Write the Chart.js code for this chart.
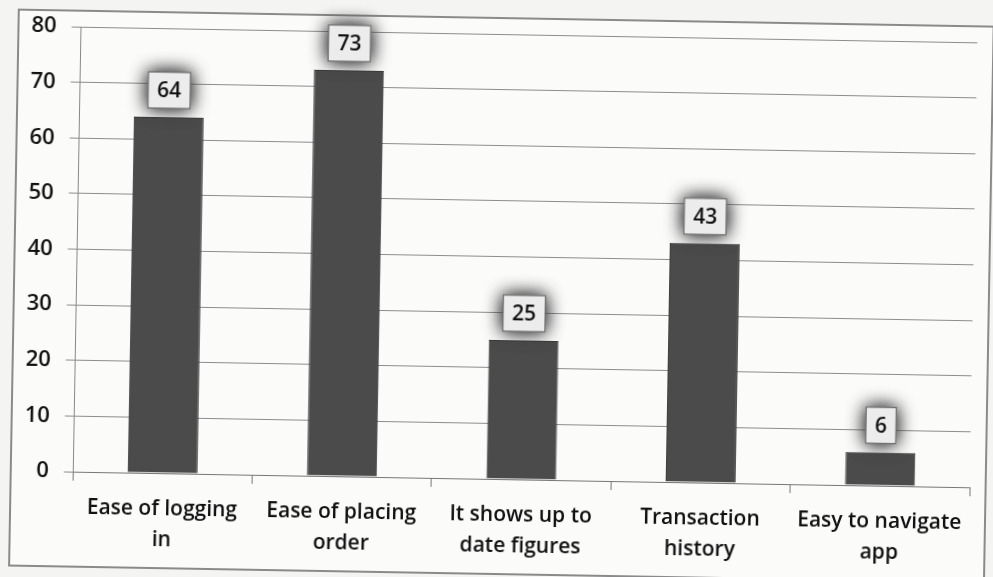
<!DOCTYPE html>
<html lang="en">
<head>
<meta charset="UTF-8">
<title>App features</title>
<style>
  html, body { margin: 0; padding: 0; background: #f4f4f2; }
  #wrap { width: 993px; height: 577px; overflow: hidden; }
  #chart { transform: rotate(1deg); transform-origin: 50% 50%; }
</style>
</head>
<body>
<div id="wrap"><canvas id="chart" width="993" height="577"></canvas></div>
<script src="https://cdn.jsdelivr.net/npm/chart.js"></script>
<script>
const categories = [
  ['Ease of logging', 'in'],
  ['Ease of placing', 'order'],
  ['It shows up to', 'date figures'],
  ['Transaction', 'history'],
  ['Easy to navigate', 'app']
];
const counts = [64, 73, 25, 43, 6];
const yTicks = [0, 10, 20, 30, 40, 50, 60, 70, 80];

const FONT = '"Open Sans", Lato, sans-serif';

// paper background and outer frame
const framePlugin = {
  id: 'frame',
  beforeDraw(chart) {
    const ctx = chart.ctx;
    ctx.save();
    ctx.fillStyle = '#fbfbfa';
    ctx.fillRect(14, 18, 975, 556);
    ctx.strokeStyle = '#8a8a8a';
    ctx.lineWidth = 2;
    ctx.strokeRect(14, 18, 975, 556);
    ctx.restore();
  }
};

// boxed value labels with a soft grey glow
const valueBoxes = {
  id: 'valueBoxes',
  afterDatasetsDraw(chart) {
    const ctx = chart.ctx;
    const meta = chart.getDatasetMeta(0);
    ctx.save();
    ctx.font = '600 21px ' + FONT;
    meta.data.forEach((bar, i) => {
      const txt = String(chart.data.datasets[0].data[i]);
      const w = ctx.measureText(txt).width + 18;
      const h = 36;
      const x = bar.x - w / 2;
      const y = bar.y - 9 - h;
      ctx.shadowColor = 'rgba(60,60,60,0.95)';
      ctx.shadowBlur = 18;
      ctx.fillStyle = '#ececec';
      ctx.fillRect(x, y, w, h);
      ctx.fillRect(x, y, w, h);
      ctx.shadowBlur = 0;
      ctx.fillRect(x, y, w, h);
      ctx.strokeStyle = '#6f6f6f';
      ctx.lineWidth = 1.2;
      ctx.strokeRect(x, y, w, h);
      ctx.fillStyle = '#111';
      ctx.textAlign = 'center';
      ctx.textBaseline = 'middle';
      ctx.fillText(txt, bar.x, y + h / 2 + 1);
    });
    ctx.restore();
  }
};

new Chart(document.getElementById('chart'), {
  type: 'bar',
  data: {
    labels: categories,
    datasets: [{
      data: counts,
      backgroundColor: '#4b4b4b',
      borderColor: '#3a3a3a',
      borderWidth: 1,
      barPercentage: 0.39,
      categoryPercentage: 1
    }]
  },
  options: {
    responsive: false,
    animation: false,
    layout: { padding: { top: 34, right: 20, left: 12, bottom: 4 } },
    plugins: { legend: { display: false }, tooltip: { enabled: false } },
    scales: {
      x: {
        grid: { display: true, drawOnChartArea: false, color: '#777', tickLength: 9 },
        border: { color: '#777' },
        ticks: { color: '#111', font: { family: FONT, size: 21, weight: 600, lineHeight: 1.5 }, padding: 11, maxRotation: 0 }
      },
      y: {
        min: 0,
        max: 80,
        afterBuildTicks(axis) { axis.ticks = yTicks.map(v => ({ value: v })); },
        grid: { color: '#8c8c8c', lineWidth: 1, tickLength: 9 },
        border: { color: '#888' },
        ticks: { color: '#111', font: { family: FONT, size: 22, weight: 600 }, padding: 15 }
      }
    }
  },
  plugins: [framePlugin, valueBoxes]
});
</script>
</body>
</html>
